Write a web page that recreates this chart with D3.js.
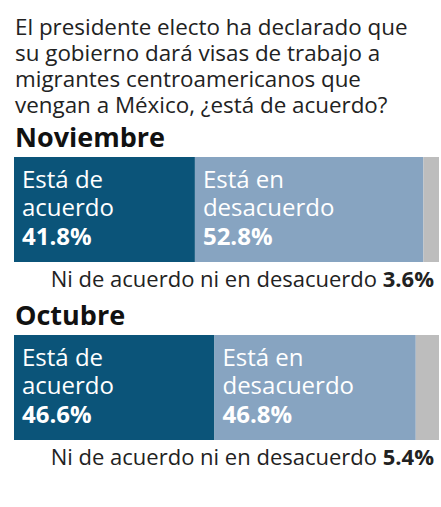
<!DOCTYPE html>
<html>
<head>
<meta charset="utf-8">
<script src="https://cdn.jsdelivr.net/npm/d3@7"></script>
<style>
  body { margin: 0; background: #fff; }
  text { font-family: "Open Sans", sans-serif; }
</style>
</head>
<body>
<div id="chart"></div>
<script>
var pregunta = ["El presidente electo ha declarado que",
                "su gobierno dará visas de trabajo a",
                "migrantes centroamericanos que",
                "vengan a México, ¿está de acuerdo?"];
var meses = ["Noviembre", "Octubre"];
var deAcuerdo = [41.8, 46.6];
var enDesacuerdo = [52.8, 46.8];
var ninguno = [3.6, 5.4];
var etiquetas = [["Está de", "acuerdo"], ["Está en", "desacuerdo"]];
var notaNinguno = "Ni de acuerdo ni en desacuerdo ";
var colores = ["#0b5479", "#87a4c1", "#bdbdbd"];

var width = 441, height = 507;

var svg = d3.select("#chart")
        .append("svg")
        .attr("width", width)
        .attr("height", height);

svg.selectAll("text.pregunta")
        .data(pregunta)
        .enter()
        .append("text")
        .attr("class", "pregunta")
        .attr("x", 15)
        .attr("y", function (d, i) { return 35 + i * 26; })
        .attr("fill", "#222")
        .attr("font-size", "22.4px")
        .text(function (d) { return d; });

var y = d3.scaleBand()
        .domain(meses)
        .range([157, 513]);

meses.forEach(function (mes, i) {
    var vals = [deAcuerdo[i], enDesacuerdo[i], ninguno[i]];
    var x = d3.scaleLinear()
            .domain([0, d3.sum(vals)])
            .range([14, 439]);
    var top = y(mes);
    var g = svg.append("g");

    g.append("text")
        .attr("x", 15)
        .attr("y", top - 10)
        .attr("fill", "#111")
        .attr("font-size", "27px")
        .attr("font-weight", "bold")
        .text(mes);

    var starts = [0, vals[0], vals[0] + vals[1]];
    g.selectAll("rect")
        .data(vals)
        .enter()
        .append("rect")
        .attr("x", function (d, j) { return x(starts[j]); })
        .attr("y", top)
        .attr("width", function (d, j) { return x(starts[j] + d) - x(starts[j]); })
        .attr("height", 105)
        .attr("fill", function (d, j) { return colores[j]; });

    [0, 1].forEach(function (j) {
        var t = g.append("text")
                .attr("x", x(starts[j]) + 8)
                .attr("y", top + 31)
                .attr("fill", "#fff")
                .attr("font-size", "24px");
        t.append("tspan").text(etiquetas[j][0]);
        t.append("tspan").attr("x", x(starts[j]) + 8).attr("dy", 28).text(etiquetas[j][1]);
        t.append("tspan").attr("x", x(starts[j]) + 8).attr("dy", 29)
                .attr("font-weight", "bold")
                .text(d3.format(".1f")(vals[j]) + "%");
    });

    var nota = g.append("text")
            .attr("x", 434)
            .attr("y", top + 130)
            .attr("text-anchor", "end")
            .attr("fill", "#222")
            .attr("font-size", "22px");
    nota.append("tspan").text(notaNinguno);
    nota.append("tspan").attr("font-weight", "bold").text(d3.format(".1f")(vals[2]) + "%");
});
</script>
</body>
</html>
